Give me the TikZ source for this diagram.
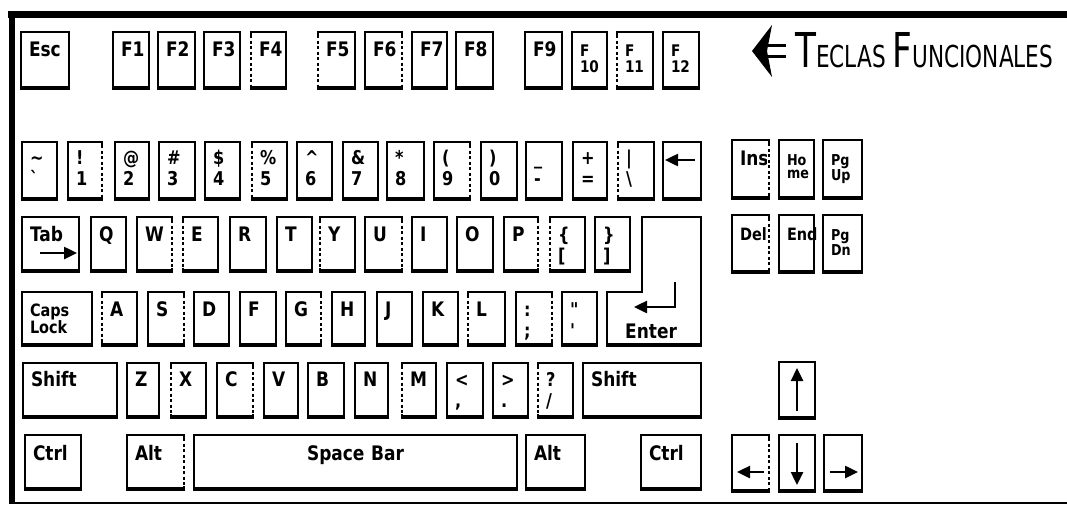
\documentclass[tikz,border=0pt]{standalone}
\usepackage{fontspec}
\newfontfamily\keyfont[FakeStretch=0.85]{DejaVu Sans}
\newfontfamily\titlefont{DejaVu Sans}
\usetikzlibrary{arrows.meta}

\tikzset{
  key/.style={draw, line width=1.8pt, rectangle, inner xsep=8pt, outer sep=0pt, align=left, anchor=north west,
    font=\keyfont\bfseries\fontsize{20}{22}\selectfont},
  keybase/.style={line width=3.5pt},
  dashside/.style={line width=1.8pt, dash pattern=on 3pt off 2.5pt},
  eraser/.style={draw=white, line width=3.4pt},
  karrow/.style={line width=2.5pt, -{Triangle[length=13pt,width=12pt]}},
  pairlbl/.style={font=\keyfont\bfseries\fontsize{19}{21}\selectfont},
  twoline/.style={font=\keyfont\bfseries\fontsize{16}{16}\selectfont},
  navlbl/.style={font=\keyfont\bfseries\fontsize{15}{13}\selectfont},
  frameline/.style={line width=#1},
}

\newcommand\ktop{11}
\newcommand\kth{13}
\newcommand\kbkey[7][]{%
  \pgfmathsetmacro\kw{#5-#3}%
  \pgfmathsetmacro\kh{#6-#4}%
  \pgfmathsetmacro\ktw{#5-#3-16}%
  \pgfmathsetmacro\kd{#6-#4-2*\ktop-\kth}%
  \node[key, inner ysep=\ktop pt, text height=\kth pt, text depth=\kd pt, text width=\ktw pt,
        minimum width=\kw pt, minimum height=\kh pt, #1] (#2) at (#3,#4) {#7};%
  \draw[keybase] ([yshift=1pt]#2.south west) -- ([yshift=1pt]#2.south east);%
}
\newcommand\kdl[1]{%
  \draw[eraser] ([yshift=-3pt]#1.north west) -- ([yshift=4pt]#1.south west);%
  \draw[dashside] ([yshift=-3pt]#1.north west) -- ([yshift=4pt]#1.south west);%
}
\newcommand\kdr[1]{%
  \draw[eraser] ([yshift=-3pt]#1.north east) -- ([yshift=4pt]#1.south east);%
  \draw[dashside] ([yshift=-3pt]#1.north east) -- ([yshift=4pt]#1.south east);%
}

\begin{document}
\begin{tikzpicture}[x=1pt,y=-1pt]
\useasboundingbox (0,0) rectangle (1067,506);
\fill[white] (0,0) rectangle (1067,506);

% frame
\draw[frameline=7pt] (8,14) -- (1067,14);
\draw[frameline=6pt] (12,11) -- (12,504);
\draw[frameline=2.5pt] (9,503) -- (1067,503);

% title
\fill (752,51) -- (772,25) -- (767,51) -- (772,77) -- cycle;
\draw[line width=3pt] (766,45) -- (786,45);
\draw[line width=3pt] (766,56) -- (786,56);
\node[anchor=base west, inner sep=0pt] (title) at (795,67)
  {\resizebox{258pt}{35pt}{\titlefont\fontsize{10}{12}\selectfont T\fontsize{6.3}{7}\selectfont ECLAS \fontsize{10}{12}\selectfont F\fontsize{6.3}{7}\selectfont UNCIONALES}};

% function row
\renewcommand\ktop{11}
\kbkey{esc}{21}{32}{69}{89}{Esc}
\kbkey{f1}{113}{32}{149}{89}{F1}
\kbkey{f2}{158}{32}{195}{89}{F2}
\kbkey{f3}{204}{32}{240}{89}{F3}
\kbkey{f4}{251}{32}{286}{89}{F4}
\kbkey{f5}{318}{32}{355}{89}{F5}
\kbkey{f6}{365}{32}{402}{89}{F6}
\kbkey{f7}{412}{32}{447}{89}{F7}
\kbkey{f8}{456}{32}{493}{89}{F8}
\kbkey{f9}{525}{32}{562}{89}{F9}
\kbkey[twoline]{f10}{572}{32}{607}{89}{F\\10}
\kbkey[twoline]{f11}{617}{32}{653}{89}{F\\11}
\kbkey[twoline]{f12}{663}{32}{699}{89}{F\\12}
\kdl{f4}\kdl{f5}\kdr{f6}\kdl{f11}

% number row
\renewcommand\ktop{9}
\kbkey[pairlbl]{grave}{22}{142}{57}{200}{\symbol{"7E}\\\symbol{"60}}
\kbkey[pairlbl]{n1}{68}{142}{102}{200}{!\\1}
\kbkey[pairlbl]{n2}{115}{142}{149}{200}{@\\2}
\kbkey[pairlbl]{n3}{159}{142}{195}{200}{\#\\3}
\kbkey[pairlbl]{n4}{205}{142}{240}{200}{\$\\4}
\kbkey[pairlbl]{n5}{252}{142}{287}{200}{\%\\5}
\kbkey[pairlbl]{n6}{297}{142}{332}{200}{\symbol{"5E}\\6}
\kbkey[pairlbl]{n7}{343}{142}{378}{200}{\&\\7}
\kbkey[pairlbl]{n8}{387}{142}{424}{200}{*\\8}
\kbkey[pairlbl]{n9}{434}{142}{470}{200}{(\\9}
\kbkey[pairlbl]{n0}{481}{142}{517}{200}{)\\0}
\kbkey[pairlbl]{minus}{526}{142}{562}{200}{\symbol{"5F}\\-}
\kbkey[pairlbl]{equal}{573}{142}{607}{200}{+\\=}
\kbkey[pairlbl]{bslash}{618}{142}{654}{200}{|\\\symbol{"5C}}
\kbkey{bksp}{663}{142}{701}{200}{}
\kdr{n1}\kdl{n5}\kdr{n9}\kdl{bslash}
\coordinate (bkspA) at (695,160);
\coordinate (bkspB) at (665,160);
\draw[karrow] (bkspA) -- (bkspB);

% qwerty row
\renewcommand\ktop{11}
\kbkey{tab}{22}{217}{79}{272}{Tab}
\kbkey{q}{91}{217}{126}{272}{Q}
\kbkey{w}{137}{217}{172}{272}{W}
\kbkey{e}{183}{217}{218}{272}{E}
\kbkey{r}{230}{217}{266}{272}{R}
\kbkey{t}{277}{217}{312}{272}{T}
\kbkey{y}{320}{217}{355}{272}{Y}
\kbkey{u}{365}{217}{402}{272}{U}
\kbkey{i}{412}{217}{447}{272}{I}
\kbkey{o}{457}{217}{493}{272}{O}
\kbkey{p}{504}{217}{538}{272}{P}
\kbkey[pairlbl]{lbrack}{550}{217}{585}{272}{\{\\{}[}
\kbkey[pairlbl]{rbrack}{595}{217}{630}{272}{\}\\{}]}
\kdr{w}\kdl{e}\kdl{y}\kdr{u}\kdr{p}\kdl{lbrack}
\coordinate (tabA) at (40,253);
\coordinate (tabB) at (77,253);
\draw[karrow] (tabA) -- (tabB);

% enter key
\coordinate (ent1) at (642,217);
\coordinate (ent2) at (701,217);
\coordinate (ent3) at (701,346);
\coordinate (ent4) at (607,346);
\coordinate (ent5) at (607,292);
\coordinate (ent6) at (642,292);
\draw[line width=1.8pt] (ent1) -- (ent2) -- (ent3) -- (ent4) -- (ent5) -- (ent6) -- cycle;
\draw[keybase] ([yshift=1pt]ent4) -- ([yshift=1pt]ent3);
\node[anchor=base west, inner sep=0pt, font=\keyfont\bfseries\fontsize{20}{22}\selectfont] (enterlbl) at (625,338) {Enter};
\coordinate (enA) at (675,282);
\coordinate (enB) at (675,307);
\coordinate (enC) at (634,307);
\draw[karrow] (enA) -- (enB) -- (enC);

% home row
\renewcommand\ktop{11}
\kbkey[font=\keyfont\bfseries\fontsize{17}{15}\selectfont]{caps}{22}{292}{92}{346}{Caps\\Lock}
\kbkey{a}{102}{292}{137}{346}{A}
\kbkey{s}{148}{292}{184}{346}{S}
\kbkey{d}{194}{292}{229}{346}{D}
\kbkey{f}{240}{292}{276}{346}{F}
\kbkey{g}{286}{292}{321}{346}{G}
\kbkey{h}{332}{292}{365}{346}{H}
\kbkey{j}{377}{292}{412}{346}{J}
\kbkey{k}{423}{292}{458}{346}{K}
\kbkey{l}{468}{292}{505}{346}{L}
\kbkey[pairlbl]{semi}{516}{292}{552}{346}{:\\;}
\kbkey[pairlbl]{quote}{562}{292}{597}{346}{\symbol{"22}\\\symbol{"27}}
\kdl{a}\kdr{s}\kdr{g}\kdl{l}\kdr{semi}

% shift row
\renewcommand\ktop{10}
\kbkey{lshift}{23}{363}{117}{418}{Shift}
\kbkey{z}{127}{363}{159}{418}{Z}
\kbkey{x}{171}{363}{206}{418}{X}
\kbkey{c}{217}{363}{253}{418}{C}
\kbkey{v}{264}{363}{298}{418}{V}
\kbkey{b}{308}{363}{344}{418}{B}
\kbkey{n}{355}{363}{388}{418}{N}
\kbkey{m}{402}{363}{436}{418}{M}
\kbkey[pairlbl]{comma}{447}{363}{483}{418}{<\\,}
\kbkey[pairlbl]{period}{493}{363}{528}{418}{>\\.}
\kbkey[pairlbl]{slash}{538}{363}{573}{418}{?\\/}
\kbkey{rshift}{583}{363}{701}{418}{Shift}
\kdl{x}\kdr{c}\kdl{m}\kdl{slash}

% bottom row
\renewcommand\ktop{12}
\kbkey{lctrl}{25}{435}{81}{490}{Ctrl}
\kbkey{lalt}{127}{435}{184}{490}{Alt}
\kbkey[align=center]{space}{194}{435}{517}{490}{Space Bar}
\kbkey{ralt}{526}{435}{585}{490}{Alt}
\kbkey{rctrl}{641}{435}{701}{490}{Ctrl}
\kdr{lalt}

% navigation block
\renewcommand\ktop{12}
\kbkey{ins}{732}{140}{769}{199}{Ins}
\kbkey[navlbl]{home}{779}{140}{814}{199}{Ho\\me}
\kbkey[navlbl]{pgup}{823}{140}{862}{199}{Pg\\Up}
\kbkey[font=\keyfont\bfseries\fontsize{17}{18}\selectfont]{del}{732}{215}{769}{273}{Del}
\kbkey[font=\keyfont\bfseries\fontsize{17}{18}\selectfont]{end}{779}{215}{814}{273}{End}
\kbkey[navlbl]{pgdn}{823}{215}{862}{273}{Pg\\Dn}
\kdr{ins}\kdr{del}

% arrow keys
\kbkey{up}{779}{362}{815}{419}{}
\kbkey{left}{732}{435}{769}{492}{}
\kbkey{down}{779}{435}{815}{492}{}
\kbkey{right}{824}{435}{862}{492}{}
\kdr{left}
\coordinate (upA) at (797,411);
\coordinate (upB) at (797,368);
\draw[karrow] (upA) -- (upB);
\coordinate (leftA) at (764,472);
\coordinate (leftB) at (737,472);
\draw[karrow] (leftA) -- (leftB);
\coordinate (downA) at (797,443);
\coordinate (downB) at (797,485);
\draw[karrow] (downA) -- (downB);
\coordinate (rightA) at (830,472);
\coordinate (rightB) at (858,472);
\draw[karrow] (rightA) -- (rightB);
\end{tikzpicture}
\end{document}
